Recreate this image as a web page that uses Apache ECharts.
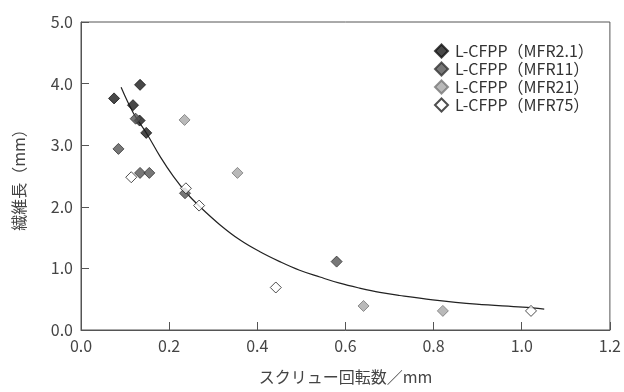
<!DOCTYPE html>
<html><head><meta charset="utf-8">
<script src="https://cdn.jsdelivr.net/npm/echarts@6/dist/echarts.min.js"></script>
<style>html,body{margin:0;padding:0;background:#fff}#c{width:624px;height:392px}</style>
</head><body><div id="c"></div>
<script>
const seriesNames = ['L-CFPP（MFR2.1）','L-CFPP（MFR11）','L-CFPP（MFR21）','L-CFPP（MFR75）'];
const mfr2X = [0.075, 0.134, 0.118, 0.133, 0.148];
const mfr2Y = [3.76, 3.98, 3.65, 3.40, 3.20];
const mfr11X = [0.085, 0.124, 0.134, 0.155, 0.236, 0.580];
const mfr11Y = [2.94, 3.43, 2.55, 2.55, 2.22, 1.11];
const mfr21X = [0.235, 0.355, 0.641, 0.821];
const mfr21Y = [3.41, 2.55, 0.39, 0.31];
const mfr75X = [0.114, 0.238, 0.268, 0.442, 1.021];
const mfr75Y = [2.48, 2.30, 2.02, 0.69, 0.31];
const trendX = [0.091, 0.119, 0.149, 0.180, 0.210, 0.240, 0.270, 0.315, 0.361, 0.406, 0.451, 0.496, 0.542, 0.587, 0.632, 0.678, 0.723, 0.798, 0.897, 1.002, 1.051];
const trendY = [3.94, 3.52, 3.19, 2.81, 2.49, 2.22, 2.00, 1.71, 1.46, 1.27, 1.11, 0.97, 0.86, 0.76, 0.68, 0.61, 0.56, 0.49, 0.42, 0.37, 0.34];

const zip = (a, b) => a.map((v, i) => [v, b[i]]);
const FONT = '"Noto Sans CJK JP", "Noto Sans", sans-serif';
const fills = ['#1a1a1a', '#555555', '#a8a8a8', '#ffffff'];
const borders = ['#111111', '#333333', '#777777', '#222222'];
const dataSets = [zip(mfr2X, mfr2Y), zip(mfr11X, mfr11Y), zip(mfr21X, mfr21Y), zip(mfr75X, mfr75Y)];

const chart = echarts.init(document.getElementById('c'));
const series = dataSets.map((d, i) => ({
  name: seriesNames[i], type: 'scatter', data: d, symbol: 'diamond', symbolSize: 11,
  itemStyle: { color: fills[i], borderColor: borders[i], borderWidth: 1 }, z: 3
}));
series.push({
  name: 'trend', type: 'line', data: zip(trendX, trendY), smooth: 0.4, showSymbol: false,
  lineStyle: { color: '#222', width: 1.2 }, z: 2, silent: true
});
chart.setOption({
  animation: false,
  textStyle: { fontFamily: FONT },
  grid: { left: 81, right: 13, top: 22, bottom: 62, show: true, borderColor: '#555', borderWidth: 1 },
  legend: {
    data: seriesNames, orient: 'vertical', left: 429, top: 38, itemGap: 2,
    itemWidth: 13, itemHeight: 13, icon: 'diamond',
    textStyle: { fontSize: 16, lineHeight: 16, color: '#333', fontFamily: FONT, padding: [0, 0, 0, 2] }
  },
  xAxis: {
    type: 'value', min: 0, max: 1.2, interval: 0.2,
    name: 'スクリュー回転数／mm', nameLocation: 'middle', nameGap: 39,
    nameTextStyle: { fontSize: 16, color: '#444' },
    axisLine: { lineStyle: { color: '#555' } },
    axisTick: { inside: true, length: 8, lineStyle: { color: '#555' } },
    axisLabel: { fontSize: 16, color: '#444', margin: 8, formatter: v => v.toFixed(1) },
    splitLine: { show: false }
  },
  yAxis: {
    type: 'value', min: 0, max: 5, interval: 1,
    name: '繊維長（mm）', nameLocation: 'middle', nameGap: 54, nameRotate: 90,
    nameTextStyle: { fontSize: 16, color: '#444' },
    axisLine: { show: true, lineStyle: { color: '#555' } },
    axisTick: { show: true, inside: true, length: 8, lineStyle: { color: '#555' } },
    axisLabel: { fontSize: 16, color: '#444', margin: 8, formatter: v => v.toFixed(1) },
    splitLine: { show: false }
  },
  series: series
});
</script></body></html>
